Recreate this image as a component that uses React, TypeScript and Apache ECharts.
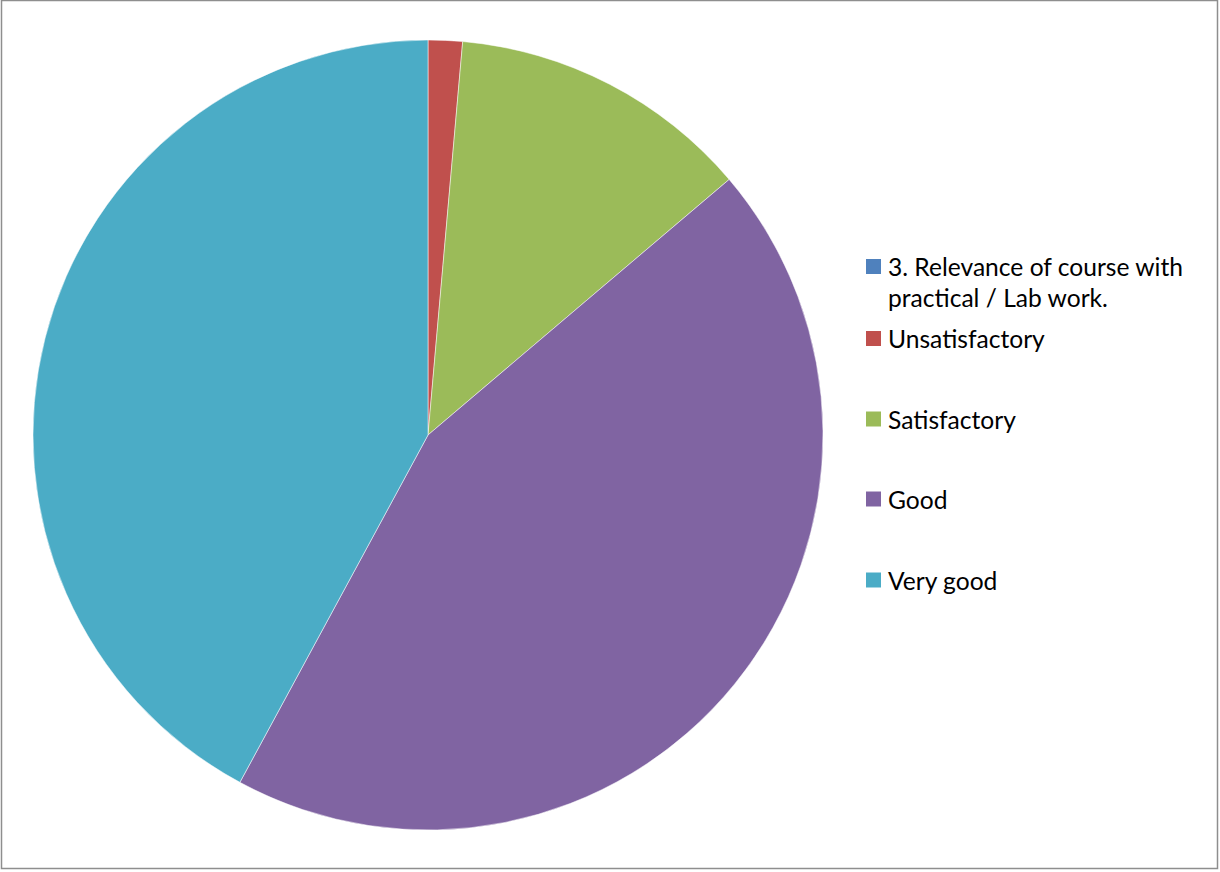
import React, { useEffect, useRef } from "react";
import * as echarts from "echarts";

const categories = [
  "3. Relevance of course with practical / Lab work.",
  "Unsatisfactory",
  "Satisfactory",
  "Good",
  "Very good",
];
const values = [0, 1.4, 12.4, 44.1, 42.1];
const colors = ["#4F81BD", "#C0504D", "#9BBB59", "#8064A2", "#4BACC6"];
const legendCenters = [266.5, 338.5, 419, 499, 580];

export default function App() {
  const ref = useRef<HTMLDivElement>(null);
  useEffect(() => {
    document.body.style.margin = "0";
    const chart = echarts.init(ref.current!, null, { renderer: "svg" });
    const legends = categories.map((name, i) => {
      const first = i === 0;
      const h = first ? 93 : 31;
      return {
        data: [name],
        orient: "vertical",
        left: 866,
        top: legendCenters[i] - h / 2,
        padding: 0,
        itemWidth: 15,
        itemHeight: 15,
        icon: "rect",
        selectedMode: false,
        itemStyle: { borderWidth: 0 },
        formatter: first
          ? () => "\n3. Relevance of course with\npractical / Lab work."
          : undefined,
        textStyle: {
          fontFamily: "Lato",
          fontSize: 24.6,
          lineHeight: 31,
          color: "#000",
          padding: [0, 0, 0, 2],
        },
      };
    });
    chart.setOption({
      animation: false,
      color: colors,
      legend: legends,
      graphic: [
        {
          type: "rect",
          shape: { x: 1.5, y: 0.5, width: 1216, height: 868 },
          style: { fill: "none", stroke: "#8e8e8e", lineWidth: 1.5 },
          silent: true,
        },
      ],
      series: [
        {
          type: "pie",
          center: [428, 435],
          radius: 395,
          startAngle: 90,
          clockwise: true,
          label: { show: false },
          labelLine: { show: false },
          emphasis: { disabled: true },
          itemStyle: { borderColor: "#ffffff", borderWidth: 0.5 },
          data: categories.map((name, i) => ({ name, value: values[i] })),
        },
      ],
    });
    return () => chart.dispose();
  }, []);
  return <div ref={ref} style={{ width: 1220, height: 872 }} />;
}
